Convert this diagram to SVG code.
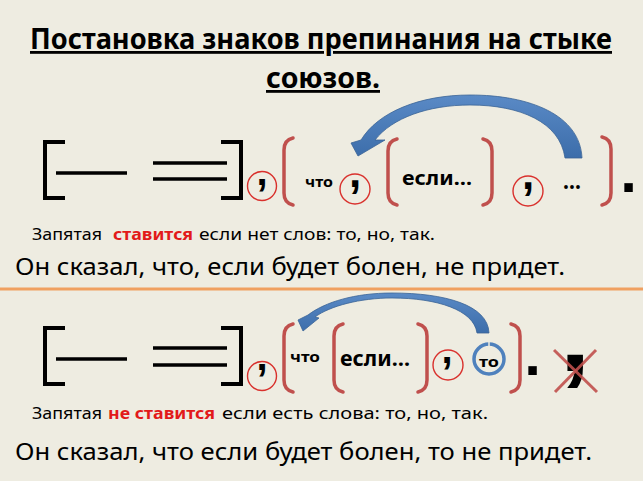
<svg xmlns="http://www.w3.org/2000/svg" width="643" height="481" viewBox="0 0 643 481">
<style>
.t{font-family:"Noto Sans","Open Sans","DejaVu Sans",sans-serif;fill:#000}
.b{font-weight:bold}
.red{fill:#E21A1A;font-weight:bold}
.br{fill:none;stroke:#000;stroke-width:4;stroke-linecap:square}
.ln{stroke:#000;stroke-width:3.5;stroke-linecap:butt}
.par{fill:none;stroke:#C0504D;stroke-width:3.5;stroke-linecap:round}
.rc{fill:none;stroke:#D9302C;stroke-width:1.4}
.pm{font-family:"Liberation Sans",Arial,sans-serif;font-weight:bold;fill:#000;text-anchor:middle}
.arr{fill:url(#ag);stroke:#3A6395;stroke-width:0.8}
</style>
<defs>
<linearGradient id="ag" x1="0" y1="0" x2="0" y2="1">
<stop offset="0" stop-color="#5A8AC6"/>
<stop offset="1" stop-color="#3C6DAA"/>
</linearGradient>
</defs>
<rect x="0" y="0" width="643" height="481" fill="#EEECE1"/>

<g id="title">
<text class="t b" x="30" y="49" font-size="28" text-decoration="underline" textLength="582" lengthAdjust="spacingAndGlyphs">Постановка знаков препинания на стыке</text>
<text class="t b" x="266" y="88" font-size="28" text-decoration="underline" textLength="114" lengthAdjust="spacingAndGlyphs">союзов.</text>
</g>

<!-- Row 1 -->
<g id="main1">
<path class="br" d="M63 142 L45 142 L45 198 L63 198"/>
<line class="ln" x1="56" y1="173" x2="127" y2="173"/>
<line class="ln" x1="153" y1="163" x2="227" y2="163"/>
<line class="ln" x1="153" y1="179" x2="227" y2="179"/>
<path class="br" d="M223 142 L241 142 L241 198 L223 198"/>
</g>
<g id="comma1a">
<circle class="rc" cx="262" cy="186" r="14.5"/>
<text class="pm" x="262" y="185" font-size="40">,</text>
</g>
<g id="sub1">
<path class="par" d="M293 138 Q284 140 284 150 L284 193 Q284 203 293 205"/>
<text class="t b" x="305" y="187" font-size="15" textLength="28" lengthAdjust="spacingAndGlyphs">что</text>
<path class="par" d="M602 137 Q611 139 611 149 L611 193 Q611 203 602 205"/>
</g>
<g id="comma1b">
<circle class="rc" cx="355" cy="189" r="15"/>
<text class="pm" x="355" y="187" font-size="44">,</text>
</g>
<g id="sub1b">
<path class="par" d="M397 139 Q388 141 388 151 L388 193 Q388 203 397 205"/>
<text class="t b" x="402" y="185" font-size="20" textLength="70" lengthAdjust="spacingAndGlyphs">если…</text>
<path class="par" d="M483 205 Q492 203 492 193 L492 151 Q492 141 483 139"/>
</g>
<g id="comma1c">
<circle class="rc" cx="528" cy="191" r="15"/>
<text class="pm" x="528" y="189" font-size="44">,</text>
</g>
<g id="dots1">
<text class="t b" x="563" y="189" font-size="24" textLength="18" lengthAdjust="spacingAndGlyphs">…</text>
</g>
<g id="period1">
<text class="pm" x="628.5" y="192" font-size="60">.</text>
</g>

<g id="note1">
<text class="t" x="32" y="240" font-size="16" textLength="70" lengthAdjust="spacingAndGlyphs">Запятая</text>
<text class="t red" x="113" y="240" font-size="16" textLength="80" lengthAdjust="spacingAndGlyphs">ставится</text>
<text class="t" x="199" y="240" font-size="16" textLength="236" lengthAdjust="spacingAndGlyphs">если нет слов: то, но, так.</text>
</g>
<g id="example1">
<text class="t" x="15" y="275" font-size="24" textLength="550" lengthAdjust="spacingAndGlyphs">Он сказал, что, если будет болен, не придет.</text>
</g>

<g id="divider">
<line x1="0" y1="289" x2="643" y2="289" stroke="#F0A060" stroke-width="3"/>
</g>

<!-- Row 2 -->
<g id="main2">
<path class="br" d="M63 328 L45 328 L45 384 L63 384"/>
<line class="ln" x1="56" y1="359" x2="127" y2="359"/>
<line class="ln" x1="153" y1="348" x2="227" y2="348"/>
<line class="ln" x1="153" y1="365" x2="227" y2="365"/>
<path class="br" d="M223 328 L241 328 L241 384 L223 384"/>
</g>
<g id="comma2a">
<circle class="rc" cx="262" cy="376" r="14.5"/>
<text class="pm" x="262" y="370" font-size="40">,</text>
</g>
<g id="sub2">
<path class="par" d="M293 324 Q284 326 284 336 L284 380 Q284 390 293 392"/>
<text class="t b" x="290" y="362" font-size="15" textLength="30" lengthAdjust="spacingAndGlyphs">что</text>
<path class="par" d="M511 324 Q520 326 520 336 L520 380 Q520 390 511 392"/>
</g>
<g id="sub2b">
<path class="par" d="M343 324 Q334 326 334 336 L334 380 Q334 390 343 392"/>
<text class="t b" x="340" y="366" font-size="21" textLength="70" lengthAdjust="spacingAndGlyphs">если…</text>
<path class="par" d="M418 324 Q427 326 427 336 L427 380 Q427 390 418 392"/>
</g>
<g id="comma2b">
<circle class="rc" cx="448" cy="365" r="15"/>
<text class="pm" x="447" y="363" font-size="40">,</text>
</g>
<g id="to2">
<circle cx="489" cy="359" r="15" fill="none" stroke="#4F81BD" stroke-width="3.5"/>
<line x1="489" y1="341" x2="489" y2="347" stroke="#EEECE1" stroke-width="1.5"/>
<text class="t b" x="479" y="367" font-size="14" textLength="20" lengthAdjust="spacingAndGlyphs">то</text>
</g>
<g id="period2">
<text class="pm" x="532.5" y="375" font-size="60">.</text>
</g>
<g id="crossed">
<text class="pm" x="575" y="371" font-size="110">,</text>
<line x1="554" y1="350" x2="597" y2="392" stroke="#C0504D" stroke-width="3" stroke-opacity="0.9"/>
<line x1="596" y1="350" x2="555" y2="392" stroke="#C0504D" stroke-width="3" stroke-opacity="0.9"/>
</g>

<g id="note2">
<text class="t" x="32" y="419" font-size="16" textLength="70" lengthAdjust="spacingAndGlyphs">Запятая</text>
<text class="t red" x="108" y="419" font-size="16" textLength="107" lengthAdjust="spacingAndGlyphs">не ставится</text>
<text class="t" x="222" y="419" font-size="16" textLength="266" lengthAdjust="spacingAndGlyphs">если есть слова: то, но, так.</text>
</g>
<g id="example2">
<text class="t" x="15" y="460" font-size="24" textLength="577" lengthAdjust="spacingAndGlyphs">Он сказал, что если будет болен, то не придет.</text>
</g>

<g id="connectors">
<path class="arr" d="M582 158 C580 115 530 95 470 95 C420 95 378 112 361 140 L351 143 L358 156 L385 140 L375 140 C392 118 428 105 470 105 C520 105 560 122 565 158 Z"/>
<path class="arr" d="M489 333 C488 305 445 293 392 293 C355 293 325 302 308 315 L298 320 L303 331 L319 318 L315 317 C330 306 360 298 392 298 C437 298 474 310 477 333 Z"/>
</g>
</svg>
